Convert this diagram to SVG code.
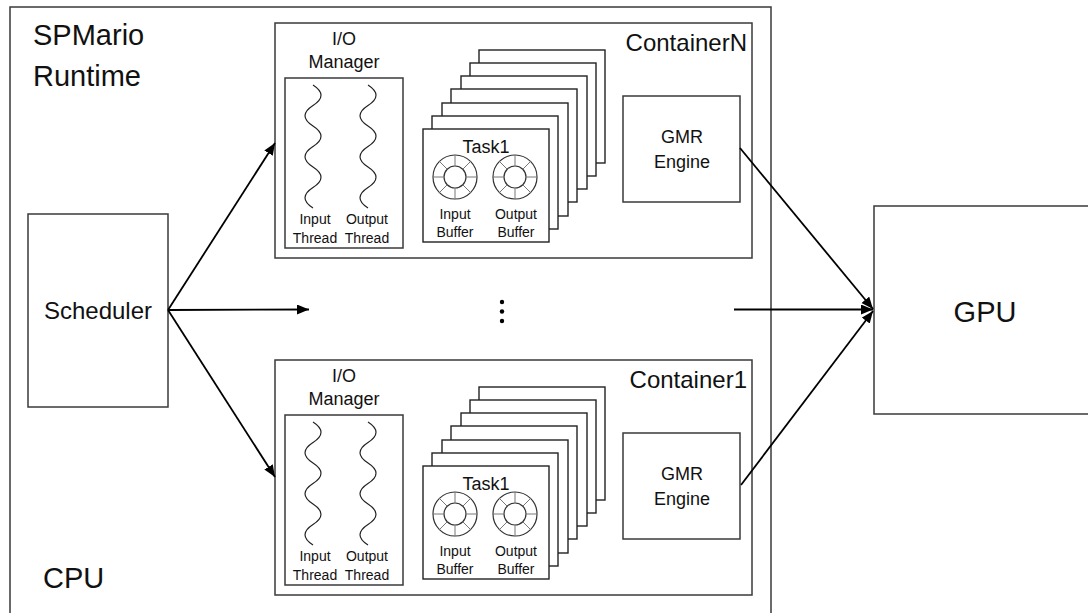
<svg xmlns="http://www.w3.org/2000/svg" xmlns:xlink="http://www.w3.org/1999/xlink" width="1088" height="613" viewBox="0 0 1088 613">
<style>
  .box{fill:#fff;stroke:#3a3a3a;stroke-width:1.5}
  .card{fill:#fff;stroke:#222;stroke-width:1.4}
  .t{font-family:"Liberation Sans",Arial,sans-serif;fill:#111}
  .big{font-size:29px}
  .mid{font-size:24px}
  .lab{font-size:18px}
  .sm{font-size:14px;text-anchor:middle}
  .c{text-anchor:middle}
  .wave{fill:none;stroke:#222;stroke-width:1.2}
  .conn{fill:none;stroke:#000;stroke-width:1.8}
</style>
<defs>
  <marker id="ah" markerUnits="userSpaceOnUse" markerWidth="14" markerHeight="12" refX="12" refY="5" orient="auto">
    <path d="M0,0 L12,5 L0,10 Z" fill="#000"/>
  </marker>
  <g id="ring">
    <circle r="22" fill="#fff" stroke="#333" stroke-width="1.2"/>
    <circle r="11" fill="#fff" stroke="#333" stroke-width="1.2"/>
    <path d="M11,0H22M-11,0H-22M0,11V22M0,-11V-22M7.8,7.8L15.6,15.6M-7.8,7.8L-15.6,15.6M7.8,-7.8L15.6,-15.6M-7.8,-7.8L-15.6,-15.6" stroke="#777" stroke-width="1"/>
  </g>
  <path id="wv" class="wave" d="M0,0 q16,10.25 0,20.5 t0,20.5 t0,20.5 t0,20.5 t0,20.5 t0,20.5"/>
  <g id="stack">
    <rect class="card" x="479" y="50" width="126" height="113"/>
    <rect class="card" x="470" y="63" width="126" height="113"/>
    <rect class="card" x="461" y="76" width="126" height="113"/>
    <rect class="card" x="451" y="89" width="126" height="113"/>
    <rect class="card" x="442" y="103" width="126" height="113"/>
    <rect class="card" x="432" y="116" width="126" height="113"/>
    <rect class="card" x="423" y="129" width="126" height="113"/>
  </g>
</defs>

<g id="cpu">
  <rect class="box" x="10" y="7" width="761" height="620"/>
  <text class="t big" x="33" y="45">SPMario</text>
  <text class="t big" x="33" y="86">Runtime</text>
  <text class="t big" x="43" y="588">CPU</text>
</g>

<g id="scheduler">
  <rect class="box" x="28" y="214" width="140" height="193"/>
  <text class="t mid c" x="98" y="319">Scheduler</text>
</g>

<g id="containerN">
  <rect class="box" x="275" y="23" width="477" height="235"/>
  <text class="t mid" x="747" y="51" text-anchor="end">ContainerN</text>
  <g id="ioN">
    <text class="t lab c" x="344" y="45">I/O</text>
    <text class="t lab c" x="344" y="68">Manager</text>
    <rect class="box" x="285" y="78" width="118" height="170"/>
    <use xlink:href="#wv" x="313" y="85"/>
    <use xlink:href="#wv" x="368" y="85"/>
    <text class="t sm" x="315" y="224">Input</text>
    <text class="t sm" x="315" y="243">Thread</text>
    <text class="t sm" x="367" y="224">Output</text>
    <text class="t sm" x="367" y="243">Thread</text>
  </g>
  <g id="tasksN">
    <use xlink:href="#stack"/>
    <text class="t lab c" x="486" y="153">Task1</text>
    <use xlink:href="#ring" x="455" y="177"/>
    <use xlink:href="#ring" x="515" y="177"/>
    <text class="t sm" x="455" y="219">Input</text>
    <text class="t sm" x="455" y="237">Buffer</text>
    <text class="t sm" x="516" y="219">Output</text>
    <text class="t sm" x="516" y="237">Buffer</text>
  </g>
  <g id="gmrN">
    <rect class="box" x="623" y="96" width="117" height="106"/>
    <text class="t lab c" x="682" y="143">GMR</text>
    <text class="t lab c" x="682" y="168">Engine</text>
  </g>
</g>

<g id="container1" transform="translate(0,337)">
  <rect class="box" x="275" y="23" width="477" height="235"/>
  <text class="t mid" x="747" y="51" text-anchor="end">Container1</text>
  <g id="io1">
    <text class="t lab c" x="344" y="45">I/O</text>
    <text class="t lab c" x="344" y="68">Manager</text>
    <rect class="box" x="285" y="78" width="118" height="170"/>
    <use xlink:href="#wv" x="313" y="85"/>
    <use xlink:href="#wv" x="368" y="85"/>
    <text class="t sm" x="315" y="224">Input</text>
    <text class="t sm" x="315" y="243">Thread</text>
    <text class="t sm" x="367" y="224">Output</text>
    <text class="t sm" x="367" y="243">Thread</text>
  </g>
  <g id="tasks1">
    <use xlink:href="#stack"/>
    <text class="t lab c" x="486" y="153">Task1</text>
    <use xlink:href="#ring" x="455" y="177"/>
    <use xlink:href="#ring" x="515" y="177"/>
    <text class="t sm" x="455" y="219">Input</text>
    <text class="t sm" x="455" y="237">Buffer</text>
    <text class="t sm" x="516" y="219">Output</text>
    <text class="t sm" x="516" y="237">Buffer</text>
  </g>
  <g id="gmr1">
    <rect class="box" x="623" y="96" width="117" height="106"/>
    <text class="t lab c" x="682" y="143">GMR</text>
    <text class="t lab c" x="682" y="168">Engine</text>
  </g>
</g>

<g id="ellipsis" fill="#000">
  <circle cx="502" cy="302" r="2.2"/>
  <circle cx="502" cy="311.5" r="2.2"/>
  <circle cx="502" cy="321" r="2.2"/>
</g>

<g id="gpu">
  <rect class="box" x="874" y="206" width="230" height="208"/>
  <text class="t big c" x="985" y="322">GPU</text>
</g>

<g id="connectors">
  <line class="conn" x1="168" y1="310" x2="275" y2="143" marker-end="url(#ah)"/>
  <line class="conn" x1="168" y1="310" x2="309" y2="309.5" marker-end="url(#ah)"/>
  <line class="conn" x1="168" y1="310" x2="275" y2="477" marker-end="url(#ah)"/>
  <line class="conn" x1="740" y1="148" x2="873" y2="309" marker-end="url(#ah)"/>
  <line class="conn" x1="734" y1="309.5" x2="873" y2="309.5" marker-end="url(#ah)"/>
  <line class="conn" x1="741" y1="485" x2="873" y2="311" marker-end="url(#ah)"/>
</g>
</svg>
